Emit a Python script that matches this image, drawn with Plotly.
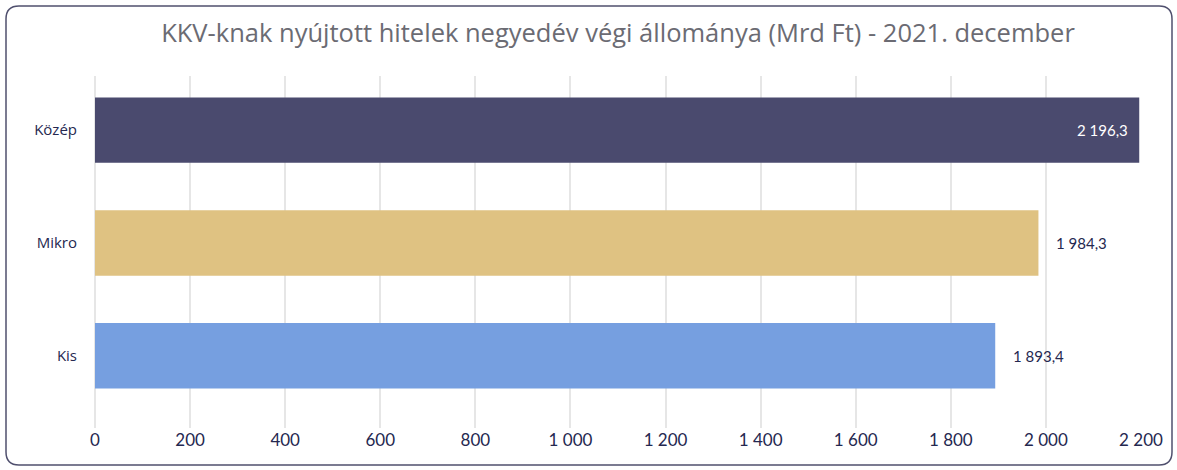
import plotly.graph_objects as go

categories = ["Kis", "Mikro", "Közép"]
values = [1893.4, 1984.3, 2196.3]
colors = ["#769fe0", "#dfc282", "#4a4a6e"]
tick_vals = [0, 200, 400, 600, 800, 1000, 1200, 1400, 1600, 1800, 2000, 2200]
title = "KKV-knak nyújtott hitelek negyedév végi állománya (Mrd Ft) - 2021. december"

W, H = 1177, 470
ml, mr, mt, mb = 95, 36, 76, 42
pw, ph = W - ml - mr, H - mt - mb

fig = go.Figure(go.Bar(
    x=values, y=categories, orientation="h",
    marker=dict(color=colors, line=dict(width=0)),
    width=0.58, hoverinfo="skip",
))

# value labels
for c, v in zip(categories, values):
    inside = v == max(values)
    fig.add_annotation(
        x=v, y=c, xref="x", yref="y",
        text=f"{v:,.1f}".replace(",", " ").replace(".", ","),
        showarrow=False,
        xanchor="right" if inside else "left",
        xshift=-9 if inside else 16,
        font=dict(family="Lato, Open Sans, sans-serif", size=15,
                  color="#ffffff" if inside else "#252850"),
    )

# rounded border in paper coordinates
def px2x(p): return (p - ml) / pw
def py2y(p): return 1 - (p - mt) / ph
x0, x1, y0, y1, r = 6, 1172, 6, 465, 13
path = (f"M {px2x(x0 + r)},{py2y(y0)} L {px2x(x1 - r)},{py2y(y0)} "
        f"Q {px2x(x1)},{py2y(y0)} {px2x(x1)},{py2y(y0 + r)} "
        f"L {px2x(x1)},{py2y(y1 - r)} Q {px2x(x1)},{py2y(y1)} {px2x(x1 - r)},{py2y(y1)} "
        f"L {px2x(x0 + r)},{py2y(y1)} Q {px2x(x0)},{py2y(y1)} {px2x(x0)},{py2y(y1 - r)} "
        f"L {px2x(x0)},{py2y(y0 + r)} Q {px2x(x0)},{py2y(y0)} {px2x(x0 + r)},{py2y(y0)} Z")
fig.add_shape(type="path", path=path, xref="paper", yref="paper",
              line=dict(color="#50506e", width=1.5), layer="above")

fig.update_layout(
    width=W, height=H,
    margin=dict(l=ml, r=mr, t=mt, b=mb),
    paper_bgcolor="white", plot_bgcolor="white",
    separators=", ",
    showlegend=False,
    title=dict(text=title, x=0.5, xref="paper", xanchor="center",
               y=1 - 33 / H, yref="container", yanchor="middle",
               font=dict(family="Open Sans, sans-serif", size=25.5, color="#6b6b73")),
    xaxis=dict(range=[0, 2200], tickvals=tick_vals,
               ticktext=[f"{t:,}".replace(",", " ") for t in tick_vals],
               showgrid=True, gridcolor="#e6e6e6", gridwidth=1.5,
               zeroline=True, zerolinecolor="#e6e6e6", zerolinewidth=1.5,
               showline=False, ticks="",
               tickfont=dict(family="Lato, Open Sans, sans-serif", size=17, color="#252850")),
    yaxis=dict(range=[-0.64, 2.48], showgrid=False, zeroline=False, showline=False,
               ticks="", ticklabelstandoff=17,
               tickfont=dict(family="Open Sans, sans-serif", size=15, color="#252850")),
)

fig.write_html("out.html", config={"displayModeBar": False},
               post_script="document.body.style.margin='0';document.body.style.overflow='hidden';")
